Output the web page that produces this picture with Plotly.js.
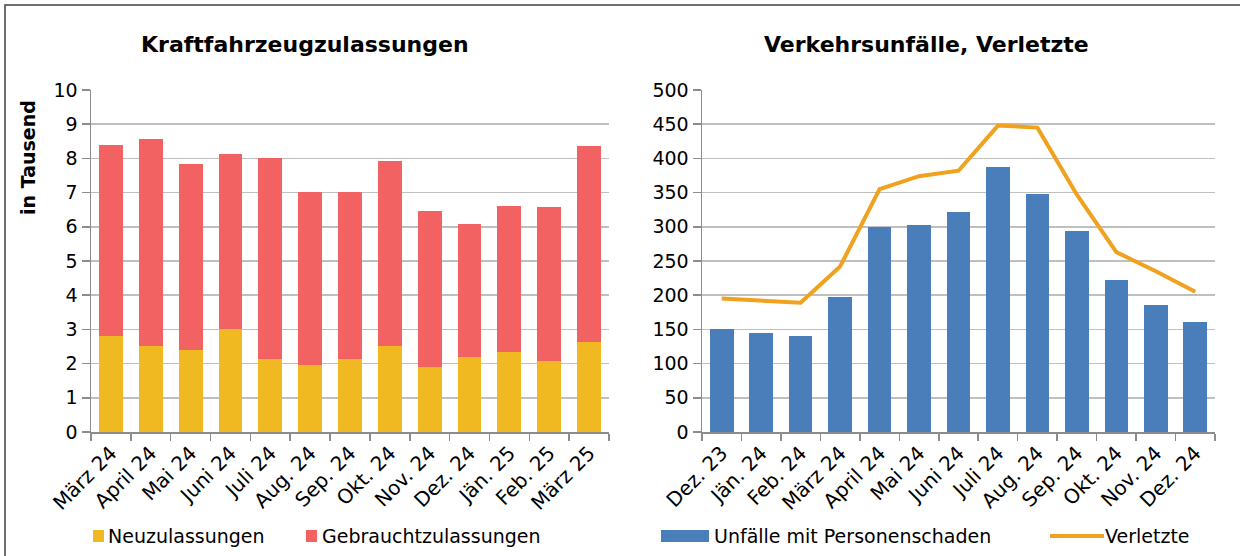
<!DOCTYPE html>
<html><head><meta charset="utf-8">
<script src="https://cdn.plot.ly/plotly-3.0.1.min.js"></script>
<style>body{margin:0;background:#fff}#c{width:1240px;height:556px}</style>
</head><body><div id="c"></div>
<script>
// Left chart: Kraftfahrzeugzulassungen (in Tausend)
var monthsLeft = ["März 24","April 24","Mai 24","Juni 24","Juli 24","Aug. 24","Sep. 24","Okt. 24","Nov. 24","Dez. 24","Jän. 25","Feb. 25","März 25"];
var neuzulassungen = [2.81,2.51,2.41,3.01,2.13,1.97,2.13,2.51,1.91,2.19,2.35,2.07,2.63];
var gebrauchtzulassungen = [5.59,6.05,5.44,5.11,5.88,5.05,4.89,5.40,4.55,3.88,4.27,4.50,5.72];
// Right chart: Verkehrsunfälle, Verletzte
var monthsRight = ["Dez. 23","Jän. 24","Feb. 24","März 24","April 24","Mai 24","Juni 24","Juli 24","Aug. 24","Sep. 24","Okt. 24","Nov. 24","Dez. 24"];
var unfaelle = [150,145,140,198,300,302,321,387,348,294,222,186,161];
var verletzte = [195,192,189,242,355,374,382,448,445,347,263,235,205];

var W = 1240, H = 556;
function px(x){return x/W;}
function py(y){return 1 - y/H;}
var FONT = "DejaVu Sans, sans-serif";
var cYellow = "#F0B921", cRed = "#F26262", cBlue = "#4A7EBB", cOrange = "#F0A11E";

var traces = [
  {type:"bar", x:monthsLeft, y:neuzulassungen, name:"Neuzulassungen", marker:{color:cYellow}, xaxis:"x", yaxis:"y", hoverinfo:"y"},
  {type:"bar", x:monthsLeft, y:gebrauchtzulassungen, name:"Gebrauchtzulassungen", marker:{color:cRed}, xaxis:"x", yaxis:"y", hoverinfo:"y"},
  {type:"bar", x:monthsRight, y:unfaelle, name:"Unfälle mit Personenschaden", marker:{color:cBlue}, xaxis:"x2", yaxis:"y2", hoverinfo:"y"},
  {type:"scatter", mode:"lines", x:monthsRight, y:verletzte, name:"Verletzte", line:{color:cOrange, width:4}, xaxis:"x2", yaxis:"y2", hoverinfo:"y"}
];

var axX = {type:"category", showgrid:false, showline:true, linecolor:"#8C8C8C", linewidth:1.5,
  ticks:"outside", tickson:"boundaries", ticklen:7, tickcolor:"#8C8C8C", tickwidth:1.5,
  tickangle:-45, tickfont:{family:FONT, size:20, color:"#000"}, fixedrange:true};
var axY = {showgrid:true, gridcolor:"#BFBFBF", gridwidth:1.5, showline:true, linecolor:"#8C8C8C", linewidth:1.5,
  ticks:"outside", ticklen:8, tickcolor:"#8C8C8C", tickwidth:1.5, zeroline:false,
  tickfont:{family:FONT, size:19, color:"#000"}, fixedrange:true};

function merge(a,b){var o={};for(var k in a)o[k]=a[k];for(var k2 in b)o[k2]=b[k2];return o;}

var LY = 536;
var layout = {
  width:W, height:H, margin:{l:0,r:0,t:0,b:0}, paper_bgcolor:"#fff", plot_bgcolor:"#fff",
  barmode:"stack", bargap:0.4, showlegend:false, font:{family:FONT, color:"#000"},
  xaxis: merge(axX, {domain:[px(91), px(609)], anchor:"y"}),
  yaxis: merge(axY, {domain:[py(432), py(90)], range:[0,10], dtick:1, anchor:"x"}),
  xaxis2: merge(axX, {domain:[px(702), px(1215)], anchor:"y2"}),
  yaxis2: merge(axY, {domain:[py(432), py(90)], range:[0,500], dtick:50, anchor:"x2"}),
  shapes: [
    {type:"rect", xref:"paper", yref:"paper", x0:px(5), x1:px(1250), y0:py(570), y1:py(5), line:{color:"#404040", width:1.5}, fillcolor:"rgba(0,0,0,0)", layer:"below"},
    {type:"rect", xref:"paper", yref:"paper", x0:px(93), x1:px(104), y0:py(LY+6), y1:py(LY-6), fillcolor:cYellow, line:{width:0}},
    {type:"rect", xref:"paper", yref:"paper", x0:px(306), x1:px(317), y0:py(LY+6), y1:py(LY-6), fillcolor:cRed, line:{width:0}},
    {type:"rect", xref:"paper", yref:"paper", x0:px(661), x1:px(709), y0:py(LY+6), y1:py(LY-6), fillcolor:cBlue, line:{width:0}},
    {type:"line", xref:"paper", yref:"paper", x0:px(1050), x1:px(1104), y0:py(LY), y1:py(LY), line:{color:cOrange, width:4}}
  ],
  annotations: [
    {text:"<b>Kraftfahrzeugzulassungen</b>", xref:"paper", yref:"paper", x:px(305), y:py(45), xanchor:"center", yanchor:"middle", showarrow:false, font:{family:FONT, size:22, color:"#000"}},
    {text:"<b>Verkehrsunfälle, Verletzte</b>", xref:"paper", yref:"paper", x:px(926), y:py(45), xanchor:"center", yanchor:"middle", showarrow:false, font:{family:FONT, size:22, color:"#000"}},
    {text:"<b>in Tausend</b>", xref:"paper", yref:"paper", x:px(28), y:py(158), xanchor:"center", yanchor:"middle", textangle:-90, showarrow:false, font:{family:FONT, size:19, color:"#000"}},
    {text:"Neuzulassungen", xref:"paper", yref:"paper", x:px(106), y:py(LY), xanchor:"left", yanchor:"middle", showarrow:false, font:{family:FONT, size:19, color:"#000"}},
    {text:"Gebrauchtzulassungen", xref:"paper", yref:"paper", x:px(320), y:py(LY), xanchor:"left", yanchor:"middle", showarrow:false, font:{family:FONT, size:19, color:"#000"}},
    {text:"Unfälle mit Personenschaden", xref:"paper", yref:"paper", x:px(712), y:py(LY), xanchor:"left", yanchor:"middle", showarrow:false, font:{family:FONT, size:19, color:"#000"}},
    {text:"Verletzte", xref:"paper", yref:"paper", x:px(1103), y:py(LY), xanchor:"left", yanchor:"middle", showarrow:false, font:{family:FONT, size:19, color:"#000"}}
  ]
};

Plotly.newPlot("c", traces, layout, {staticPlot:true, displayModeBar:false});
</script></body></html>
